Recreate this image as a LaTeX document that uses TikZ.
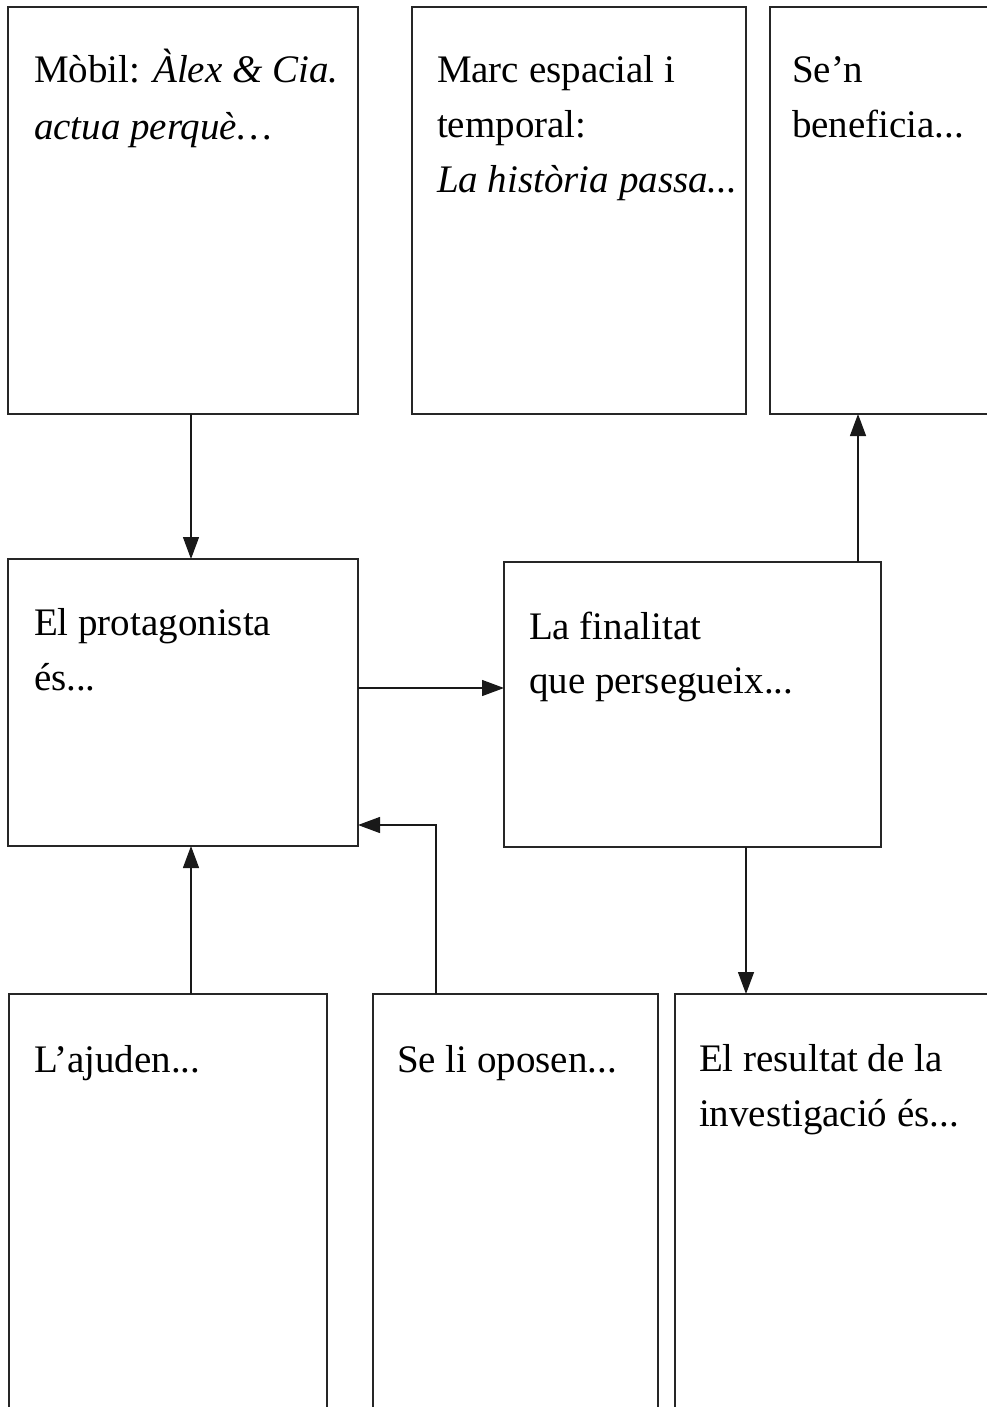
\documentclass[tikz,border=0pt]{standalone}
\usepackage{fontspec}
\setmainfont{Liberation Serif}
\usetikzlibrary{arrows.meta,calc}
\begin{document}
\begin{tikzpicture}[x=1pt,y=-1pt,
  box/.style={draw=black!85, line width=1.6pt, inner sep=0pt, outer sep=0pt, fill=white},
  txt/.style={anchor=base west, inner sep=0pt, outer sep=0pt, font=\fontsize{39}{55}\selectfont},
  arr/.style={draw=black!90, line width=1.3pt, -{Triangle[length=22pt,width=16pt]}}]
\useasboundingbox (0,0) rectangle (987,1407);
\clip (0,0) rectangle (987,1407);
\fill[white] (0,0) rectangle (987,1407);
% boxes
\node[box, minimum width=350pt, minimum height=407pt] (A) at (183,210.5) {};
\node[box, minimum width=334pt, minimum height=407pt] (B) at (579,210.5) {};
\node[box, minimum width=240pt, minimum height=407pt] (C) at (890,210.5) {};
\node[box, minimum width=350pt, minimum height=287pt] (D) at (183,702.5) {};
\node[box, minimum width=377pt, minimum height=285pt] (E) at (692.5,704.5) {};
\node[box, minimum width=318pt, minimum height=436pt] (F) at (168,1212) {};
\node[box, minimum width=285pt, minimum height=436pt] (G) at (515.5,1212) {};
\node[box, minimum width=335pt, minimum height=436pt] (H) at (842.5,1212) {};
% texts
\node[txt] (a1) at (34,83) {Mòbil: \textit{Àlex \& Cia.}};
\node[txt] (a2) at (34,140) {\textit{actua perquè…}};
\node[txt] (b1) at (437,83) {Marc espacial i};
\node[txt] (b2) at (437,138) {temporal:};
\node[txt] (b3) at (437,193) {\textit{La història passa...}};
\node[txt] (c1) at (792,83) {Se’n};
\node[txt] (c2) at (792,138) {beneficia...};
\node[txt] (d1) at (34,635) {El protagonista};
\node[txt] (d2) at (34,690) {és...};
\node[txt] (e1) at (529,639) {La finalitat};
\node[txt] (e2) at (529,693) {que persegueix...};
\node[txt] (f1) at (34,1072) {L’ajuden...};
\node[txt] (g1) at (397,1072) {Se li oposen...};
\node[txt] (h1) at (699,1071) {El resultat de la};
\node[txt] (h2) at (699,1126) {investigació és...};
% connectors
\draw[arr] ([xshift=8pt]A.south) -- ([xshift=8pt]D.north);
\draw[arr] ([yshift=14.5pt]D.east) -- ([yshift=14.5pt]D.east -| E.west);
\draw[arr] ([xshift=165.5pt]E.north) -- ([xshift=165.5pt]E.north |- C.south);
\draw[arr] ([xshift=53.5pt]E.south) -- ([xshift=53.5pt]E.south |- H.north);
\draw[arr] ([xshift=23pt]F.north) -- ([xshift=23pt]F.north |- D.south);
\draw[arr] ([xshift=-79.5pt]G.north) |- ([yshift=-122.5pt]D.east);
\end{tikzpicture}
\end{document}
